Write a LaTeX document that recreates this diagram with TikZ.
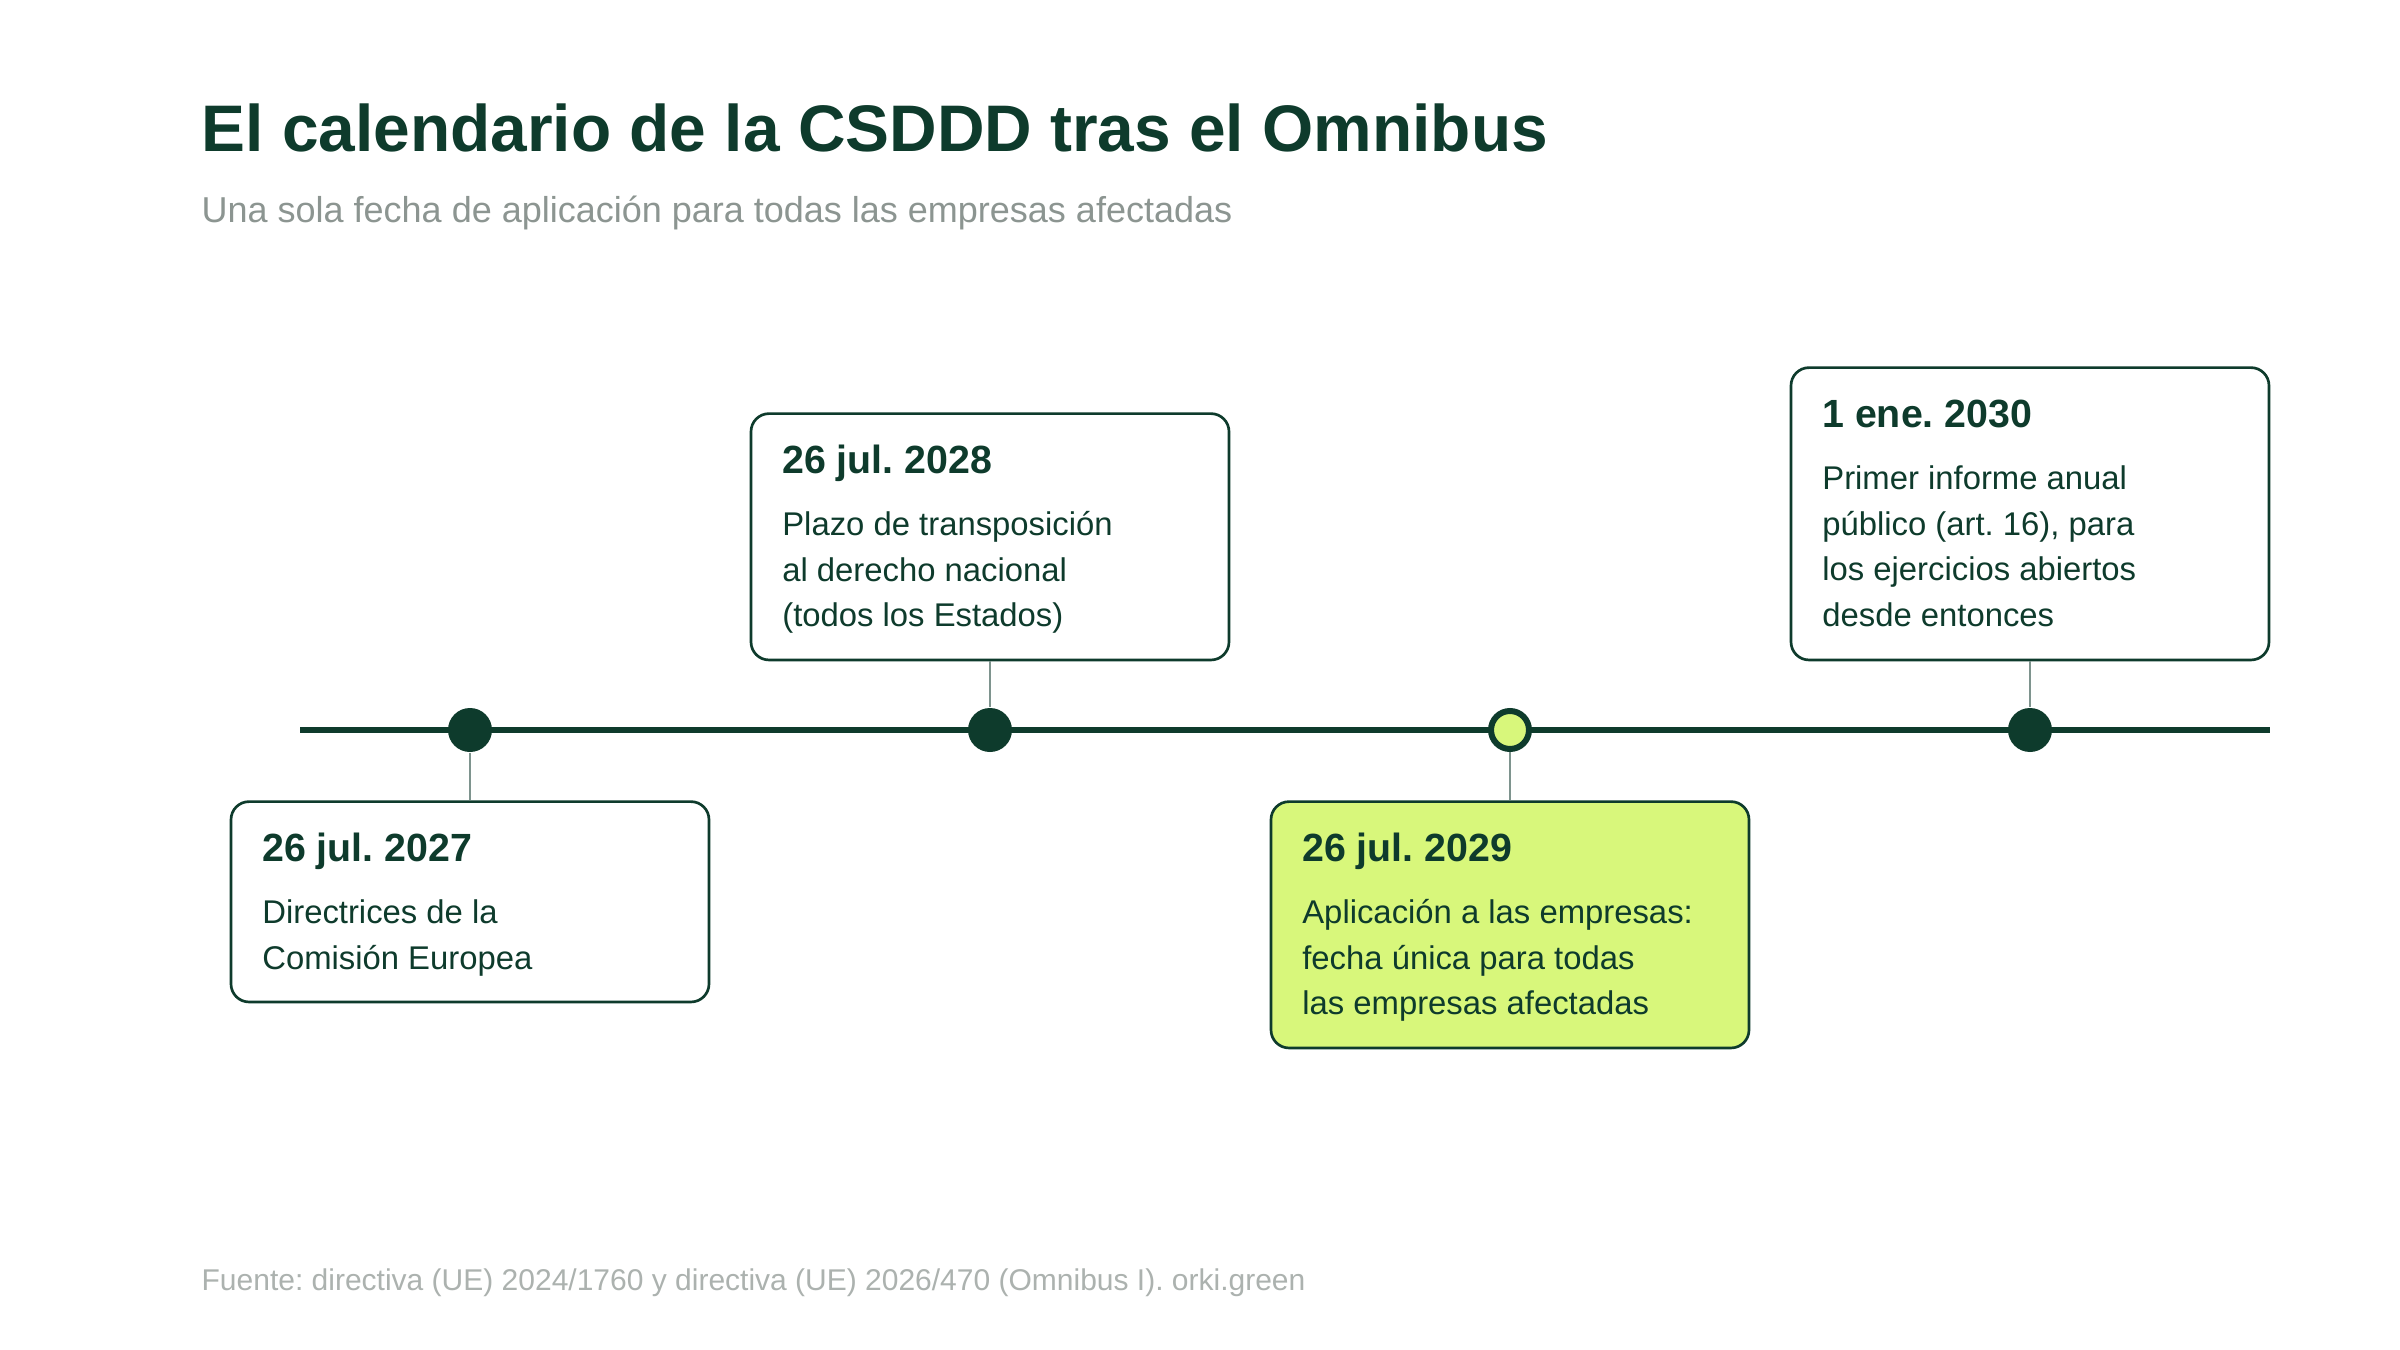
\documentclass[tikz,border=0pt]{standalone}
\usepackage{fontspec}
\setmainfont{Liberation Sans}
\frenchspacing
\definecolor{dkgreen}{HTML}{0E3B2C}
\definecolor{lime}{HTML}{D8F77B}
\definecolor{conn}{HTML}{7E948E}
\definecolor{subgrey}{HTML}{8C9591}
\definecolor{footgrey}{HTML}{ACB2AF}
\tikzset{
  evbox/.style={draw=dkgreen, line width=0.8pt, rounded corners=5.4pt, fill=white,
    minimum width=143.4pt, inner sep=0pt, anchor=north},
  hlbox/.style={evbox, fill=lime},
  datetxt/.style={anchor=base west, inner sep=0pt, text=dkgreen, font=\fontsize{11.8}{14}\selectfont\bfseries},
  bodytxt/.style={anchor=base west, inner sep=0pt, text=dkgreen, font=\fontsize{9.85}{13.74}\selectfont, align=left},
  evdot/.style={circle, fill=dkgreen, minimum size=13.2pt, inner sep=0pt},
  hldot/.style={circle, fill=lime, draw=dkgreen, line width=1.8pt, minimum size=11.4pt, inner sep=0pt},
  connline/.style={draw=conn, line width=0.75pt},
  tline/.style={draw=dkgreen, line width=1.8pt},
}
\begin{document}
\begin{tikzpicture}[x=0.3pt, y=-0.3pt]
\useasboundingbox[fill=white] (0,0) rectangle (2400,1350);
% title
\node[anchor=base west, inner sep=0pt, text=dkgreen, font=\fontsize{19.75}{24}\selectfont\bfseries] (title) at (201,152) {El calendario de la CSDDD tras el Omnibus};
\node[anchor=base west, inner sep=0pt, text=subgrey, font=\fontsize{10.8}{13}\selectfont] (subtitle) at (201,222.5) {Una sola fecha de aplicación para todas las empresas afectadas};
% timeline
\coordinate (tlL) at (300,730);
\coordinate (tlR) at (2270,730);
\draw[tline] (tlL) -- (tlR);
% dots
\node[evdot] (d1) at (470,730) {};
\node[evdot] (d2) at (990,730) {};
\node[hldot] (d3) at (1510,730) {};
\node[evdot] (d4) at (2030,730) {};
% boxes (north = outer top + 1.35)
\node[evbox, minimum height=60.1pt] (b1) at (470,800.3) {};
\node[evbox, minimum height=73.9pt] (b2) at (990,412.3) {};
\node[hlbox, minimum height=73.9pt] (b3) at (1510,800.3) {};
\node[evbox, minimum height=87.7pt] (b4) at (2030,366.3) {};
% connectors
\draw[connline] (b1.north) -- (d1.south);
\draw[connline] (b2.south) -- (d2.north);
\draw[connline] (b3.north) -- (d3.south);
\draw[connline] (b4.south) -- (d4.north);
% box texts (multi-line base = last line)
\node[datetxt] (t1) at ([shift={(32,61.4)}]b1.north west) {26 jul. 2027};
\node[bodytxt] (s1) at ([shift={(32,168.8)}]b1.north west) {Directrices de la\\Comisión Europea};
\node[datetxt] (t2) at ([shift={(32,61.4)}]b2.north west) {26 jul. 2028};
\node[bodytxt] (s2) at ([shift={(32,214.6)}]b2.north west) {Plazo de transposición\\al derecho nacional\\(todos los Estados)};
\node[datetxt] (t3) at ([shift={(32,61.4)}]b3.north west) {26 jul. 2029};
\node[bodytxt] (s3) at ([shift={(32,214.6)}]b3.north west) {Aplicación a las empresas:\\fecha única para todas\\las empresas afectadas};
\node[datetxt] (t4) at ([shift={(32,61.4)}]b4.north west) {1 ene. 2030};
\node[bodytxt] (s4) at ([shift={(32,260.4)}]b4.north west) {Primer informe anual\\público (art. 16), para\\los ejercicios abiertos\\desde entonces};
% footer
\node[anchor=base west, inner sep=0pt, text=footgrey, font=\fontsize{9}{11}\selectfont] (footer) at (201,1290) {Fuente: directiva (UE) 2024/1760 y directiva (UE) 2026/470 (Omnibus I). orki.green};
\end{tikzpicture}
\end{document}
